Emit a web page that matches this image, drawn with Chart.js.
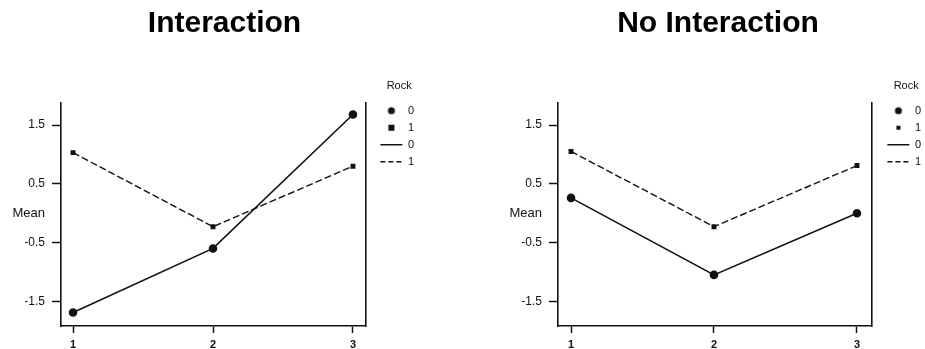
<!DOCTYPE html>
<html lang="en">
<head>
  <meta charset="UTF-8">
  <title>Interaction / No Interaction</title>
  <script src="https://cdn.jsdelivr.net/npm/chart.js"></script>
  <style>
    body { margin: 0; background: #fff; overflow: hidden; }
    .panel { position: absolute; top: 0; height: 349px; }
  </style>
</head>
<body>
  <div class="panel" style="left:0; width:449px;"><canvas id="leftChart"></canvas></div>
  <div class="panel" style="left:497px; width:442px;"><canvas id="rightChart"></canvas></div>

<script>
  const levels = [1, 2, 3];
  const yTicks = [1.5, 0.5, -0.5, -1.5];

  // Interaction panel
  const interRock0 = [-1.69, -0.60, 1.68];
  const interRock1 = [1.03, -0.23, 0.80];

  // No Interaction panel
  const noInterRock0 = [0.26, -1.05, 0.00];
  const noInterRock1 = [1.05, -0.23, 0.81];

  const ink = '#111';
  const font = 'Liberation Sans, Arial, sans-serif';

  function marker(kind, size) {
    const c = document.createElement('canvas');
    c.width = 10; c.height = 10;
    const g = c.getContext('2d');
    g.fillStyle = ink;
    if (kind === 'circle') {
      g.beginPath(); g.arc(5, 5, size / 2, 0, Math.PI * 2); g.fill();
    } else {
      g.fillRect(5 - size / 2, 5 - size / 2, size, size);
    }
    return c;
  }

  // horizontal "Mean" label next to the y tick labels
  const meanLabel = {
    id: 'meanLabel',
    afterDraw(chart) {
      const y = chart.scales.y;
      const ctx = chart.ctx;
      ctx.save();
      ctx.font = '13px ' + font;
      ctx.fillStyle = ink;
      ctx.textAlign = 'right';
      ctx.textBaseline = 'middle';
      ctx.fillText('Mean', y.right - 16, y.getPixelForValue(0));
      ctx.restore();
    }
  };

  function makeChart(id, title, rock0, rock1, xMin, xMax, sqSize, padLeft, padRight, gap) {
    const items = [
      { text: '0', pointStyle: marker('circle', 7), fillStyle: ink, strokeStyle: ink, lineWidth: 0, fontColor: ink, hidden: false },
      { text: '1', pointStyle: marker('rect', sqSize), fillStyle: ink, strokeStyle: ink, lineWidth: 0, fontColor: ink, hidden: false },
      { text: '0', pointStyle: 'line', strokeStyle: ink, lineWidth: 1.5, fontColor: ink, hidden: false },
      { text: '1', pointStyle: 'line', strokeStyle: ink, lineWidth: 1.5, lineDash: [5, 3], fontColor: ink, hidden: false }
    ];

    return new Chart(document.getElementById(id).getContext('2d'), {
      type: 'line',
      plugins: [meanLabel],
      data: {
        datasets: [
          {
            label: '0',
            data: levels.map((x, i) => ({ x: x, y: rock0[i] })),
            borderColor: ink,
            backgroundColor: ink,
            borderWidth: 1.6,
            pointStyle: 'circle',
            pointRadius: 3.5,
          },
          {
            label: '1',
            data: levels.map((x, i) => ({ x: x, y: rock1[i] })),
            borderColor: ink,
            backgroundColor: ink,
            borderWidth: 1.4,
            borderDash: [7, 3],
            pointStyle: 'rect',
            pointRadius: 2.5,
          },
        ],
      },
      options: {
        responsive: true,
        maintainAspectRatio: false,
        animation: false,
        layout: { padding: { left: padLeft, right: padRight, top: 0, bottom: 0 } },
        plugins: {
          tooltip: { enabled: false },
          title: {
            display: true,
            text: title,
            color: '#000',
            font: { family: font, size: 30, weight: 'bold' },
            padding: { top: 6, bottom: 8 }
          },
          legend: {
            position: 'right',
            align: 'start',
            title: {
              display: true, text: 'Rock', position: 'center', color: ink,
              font: { family: font, size: 11 }, padding: { top: 80, bottom: 6 }
            },
            labels: {
              usePointStyle: true,
              pointStyleWidth: 22,
              padding: 6,
              color: ink,
              font: { family: font, size: 11 },
              generateLabels: () => items
            }
          }
        },
        scales: {
          x: {
            type: 'linear',
            min: xMin,
            max: xMax,
            afterBuildTicks: s => { s.ticks = levels.map(v => ({ value: v })); },
            afterFit: s => { s.height = 23; },
            ticks: { color: ink, font: { family: font, size: 11, weight: 'bold' }, padding: 5 },
            grid: { drawOnChartArea: false, tickLength: 7, color: ink, tickWidth: 1.5 },
            border: { color: ink, width: 1.6 }
          },
          top: {
            type: 'linear',
            position: 'top',
            display: true,
            ticks: { display: false },
            grid: { display: false },
            border: { display: false },
            afterFit: s => { s.height = 53; }
          },
          y: {
            type: 'linear',
            min: -1.92,
            max: 1.875,
            afterBuildTicks: s => { s.ticks = yTicks.map(v => ({ value: v })); },
            afterFit: s => { s.width = 61 - padLeft; },
            ticks: { color: ink, font: { family: font, size: 12 }, padding: 7, callback: v => v.toFixed(1) },
            grid: { drawOnChartArea: false, tickLength: 9, color: ink, tickWidth: 1.5 },
            border: { color: ink, width: 1.6 }
          },
          y2: {
            type: 'linear',
            position: 'right',
            display: true,
            ticks: { display: false },
            grid: { display: false },
            border: { color: ink, width: 1.6 },
            afterFit: s => { s.width = gap; }
          }
        }
      }
    });
  }

  makeChart('leftChart', 'Interaction', interRock0, interRock1, 0.914, 3.093, 6, 25, 25, 8.4);
  makeChart('rightChart', 'No Interaction', noInterRock0, noInterRock1, 0.909, 3.105, 4, 8, 8, 9.4);
</script>
</body>
</html>
